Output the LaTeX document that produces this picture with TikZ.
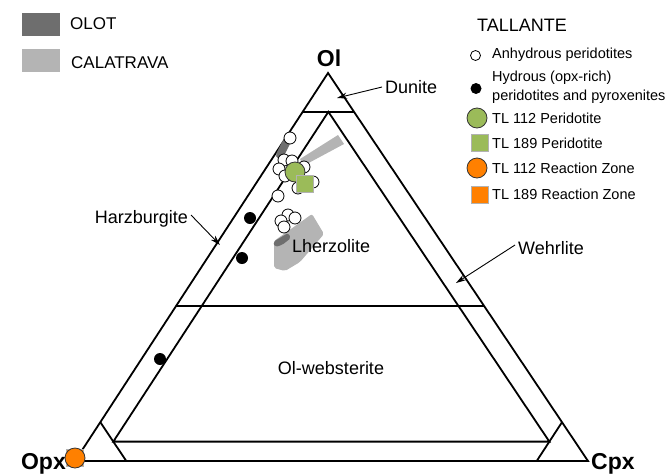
\documentclass[tikz,border=0pt]{standalone}
\usepackage{fontspec}
\setmainfont{Liberation Sans}
\usepackage{tikz}
\usetikzlibrary{arrows.meta}
\usetikzlibrary{positioning}
\definecolor{olotgray}{RGB}{110,110,110}
\definecolor{calagray}{RGB}{180,180,180}
\definecolor{tlgreen}{RGB}{155,187,89}
\definecolor{tlorange}{RGB}{255,128,0}

\begin{document}
\begin{tikzpicture}[x=1pt,y=-1pt]
	\tikzset{
		R/.style={inner sep=0pt,font=\fontsize{18}{20}\selectfont},
		L/.style={inner sep=0pt,anchor=west,align=left,font=\fontsize{14.5}{19}\selectfont},
		V/.style={inner sep=0pt,font=\fontsize{23}{25}\selectfont\bfseries},
		anh/.style={circle,draw,fill=white,line width=0.8pt,inner sep=0pt,minimum size=12pt},
		hyd/.style={circle,fill=black,inner sep=0pt,minimum size=12pt},
		tlc/.style={circle,draw=black!80,line width=0.8pt,inner sep=0pt,minimum size=20pt},
		tls/.style={rectangle,draw=gray!60,line width=0.5pt,inner sep=0pt,minimum size=17pt},
		side/.style={line width=1.8pt},
	}
	\useasboundingbox (0,0) rectangle (668,474);
	
	% corners of the triangle
	\coordinate (Ol) at (328,73);
	\coordinate (Opx) at (75,461);
	\coordinate (Cpx) at (588,461);
	\coordinate (i1) at (barycentric cs:Ol=0.9,Opx=0.05,Cpx=0.05);
	\coordinate (i2) at (barycentric cs:Ol=0.05,Opx=0.9,Cpx=0.05);
	\coordinate (i3) at (barycentric cs:Ol=0.05,Opx=0.05,Cpx=0.9);
	
	\draw[side] (Ol) -- (Opx) -- (Cpx) -- cycle;
	\draw[side] (barycentric cs:Ol=0.9,Opx=0.1) -- (barycentric cs:Ol=0.9,Cpx=0.1);
	\draw[side] (barycentric cs:Ol=0.4,Opx=0.6) -- (barycentric cs:Ol=0.4,Cpx=0.6);
	\draw[side] (i2) -- (i1) -- (i3) -- cycle;
	\draw[side] (barycentric cs:Ol=0.1,Opx=0.9) -- (barycentric cs:Opx=0.9,Cpx=0.1);
	\draw[side] (barycentric cs:Ol=0.1,Cpx=0.9) -- (barycentric cs:Opx=0.1,Cpx=0.9);
	
	\node[V,anchor=base] (ol) at (329,66) {Ol};
	\node[V,anchor=base east] (opx) at (66,469) {Opx};
	\node[V,anchor=base west] (cpx) at (591,469) {Cpx};
	
	% Calatrava and Olot fields
	\fill[calagray] (300,159) -- (338,135) -- (344,144) -- (303,166) -- cycle;
	\fill[calagray,rounded corners=2pt] (274,241) -- (312,214) -- (324,234) -- (300,262) -- (285,271) -- (274,268) -- cycle;
	\draw[olotgray,line width=8pt,line cap=round] (286,143) -- (280,155);
	\fill[olotgray,rounded corners=2pt] (273,242) -- (288,233) -- (291,238) -- (282,245) -- (275,247) -- cycle;
	
	% fields
	\node[R,anchor=west] (dun) at (385,87) {Dunite};
	\node[R,anchor=east] (hz) at (188,219) {Harzburgite};
	\node[R,anchor=west] (wh) at (518,248) {Wehrlite};
	\node[R,anchor=west] (lz) at (292,246) {Lherzolite};
	\node[R] (ow) at (331,368) {Ol-websterite};
	\coordinate (dunpt) at (337,98);
	\coordinate (hzpt) at (220,245);
	\coordinate (whpt) at (456,283);
	\path[->,>={Stealth[length=10pt,width=6pt]},line width=0.9pt]
	([xshift=-3pt]dun.west) edge (dunpt)
	([xshift=3pt,yshift=4pt]hz.east) edge (hzpt)
	([xshift=-3pt,yshift=3pt]wh.west) edge (whpt);
	
	% Tallante samples
	\node[anh] (a1) at (290,138) {};
	\node[anh] (a2) at (284,160) {};
	\node[anh] (a3) at (292,161) {};
	\node[anh] (a4) at (279,169) {};
	\node[anh] (a5) at (285,176) {};
	\node[anh] (a6) at (304,167) {};
	\node[anh] (a7) at (313,182) {};
	\node[anh] (a8) at (298,188) {};
	\node[anh] (a9) at (278,196) {};
	\node[anh] (a10) at (288,215) {};
	\node[anh] (a11) at (295,218) {};
	\node[anh] (a12) at (281,221) {};
	\node[anh] (a13) at (284,227) {};
	\node[hyd] (h1) at (250,218) {};
	\node[hyd] (h2) at (242,258) {};
	\node[hyd] (h3) at (160,359) {};
	\node[tlc,fill=tlgreen] (p112) at (295,172) {};
	\node[tls,fill=tlgreen] (p189) at (305,184) {};
	\node[tls,fill=tlorange] (r189) at (75,458) {};
	\node[tlc,fill=tlorange] (r112) at (75,458) {};
	
	% legend
	\fill[olotgray] (22,13) rectangle (60,36);
	\fill[calagray] (22,49) rectangle (60,72);
	\node[inner sep=0pt,anchor=base west,font=\fontsize{17}{19}\selectfont] (olot) at (70,29) {OLOT};
	\node[inner sep=0pt,anchor=base west,font=\fontsize{17}{19}\selectfont] (cala) at (71,68) {CALATRAVA};
	\node[inner sep=0pt,anchor=base west,font=\fontsize{18}{20}\selectfont] (tall) at (477,31) {TALLANTE};
	\node[anh,minimum size=10pt] (k1) at (475.5,55.5) {};
	\node[hyd,minimum size=11pt] (k2) at (476,88.5) {};
	\node[tlc,fill=tlgreen] (k3) at (477,118) {};
	\node[tls,fill=tlgreen] (k4) at (479.5,143) {};
	\node[tlc,fill=tlorange] (k5) at (477,168) {};
	\node[tls,fill=tlorange] (k6) at (479.5,194.5) {};
	\node[L] (t1) at (492,55) {Anhydrous peridotites};
	\node[L] (t2) at (492,87.5) {Hydrous (opx-rich)\\peridotites and pyroxenites};
	\node[L] (t3) at (492,118) {TL 112 Peridotite};
	\node[L] (t4) at (492,143) {TL 189 Peridotite};
	\node[L] (t5) at (492,168) {TL 112 Reaction Zone};
	\node[L] (t6) at (492,194) {TL 189 Reaction Zone};
\end{tikzpicture}
\end{document}
